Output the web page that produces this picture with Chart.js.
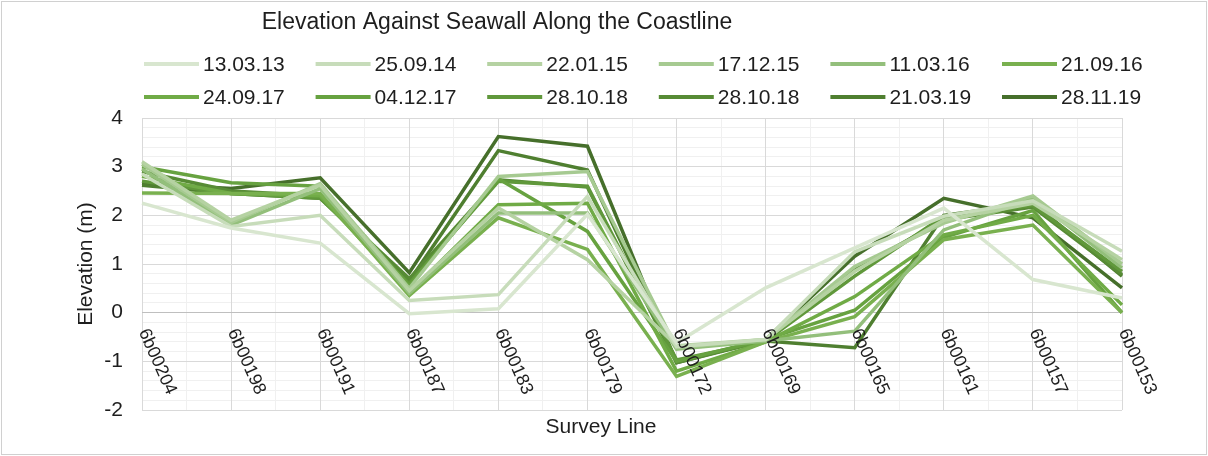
<!DOCTYPE html>
<html>
<head>
<meta charset="utf-8">
<script src="https://cdn.jsdelivr.net/npm/chart.js@4.4.1/dist/chart.umd.min.js"></script>
<style>
  body { margin: 0; background: #fff; }
</style>
</head>
<body>
<canvas id="grafico" width="1208" height="456"></canvas>
<script>
  const linhas = ['6b00204', '6b00198', '6b00191', '6b00187', '6b00183', '6b00179',
                  '6b00172', '6b00169', '6b00165', '6b00161', '6b00157', '6b00153'];
  const datas = ['13.03.13', '25.09.14', '22.01.15', '17.12.15', '11.03.16', '21.09.16',
                 '24.09.17', '04.12.17', '28.10.18', '28.10.18', '21.03.19', '28.11.19'];
  const yTicks = [-2, -1, 0, 1, 2, 3, 4];

  const elev130313 = [2.25, 1.74, 1.43, -0.02, 0.08, 2.02, -0.62, 0.51, 1.33, 2.15, 0.68, 0.30];
  const elev250914 = [2.85, 1.77, 2.00, 0.25, 0.37, 2.39, -0.70, -0.55, 1.25, 1.98, 2.30, 1.26];
  const elev220115 = [3.10, 1.90, 2.62, 0.45, 2.15, 1.09, -0.68, -0.55, 0.85, 1.90, 2.25, 1.09];
  const elev171215 = [3.05, 1.85, 2.65, 0.50, 2.80, 2.90, -0.72, -0.55, 0.95, 1.84, 2.40, 1.00];
  const elev110316 = [2.95, 1.80, 2.55, 0.40, 2.05, 2.05, -0.75, -0.58, -0.38, 1.70, 2.35, 0.92];
  const elev210916 = [2.46, 2.45, 2.45, 0.35, 1.95, 1.30, -1.31, -0.60, -0.08, 1.50, 1.80, 0.00];
  const elev240917 = [2.80, 2.45, 2.40, 0.42, 2.22, 2.25, -1.20, -0.60, 0.33, 1.60, 2.00, 0.16];
  const elev041217 = [3.00, 2.67, 2.60, 0.55, 2.75, 1.67, -1.00, -0.55, 0.05, 1.55, 2.10, 0.00];
  const elev281018a = [2.70, 2.45, 2.35, 0.60, 2.70, 2.60, -0.97, -0.58, 0.75, 1.98, 2.20, 0.85];
  const elev281018b = [2.90, 2.50, 2.40, 0.70, 2.73, 2.58, -1.03, -0.57, 0.88, 1.91, 2.17, 0.78];
  const elev210319 = [2.62, 2.45, 2.35, 0.65, 3.33, 2.93, -1.00, -0.58, -0.72, 2.00, 2.25, 0.75];
  const elev281119 = [2.66, 2.55, 2.77, 0.82, 3.62, 3.42, -1.03, -0.55, 1.16, 2.35, 1.95, 0.51];

  const series = [elev130313, elev250914, elev220115, elev171215, elev110316, elev210916,
                  elev240917, elev041217, elev281018a, elev281018b, elev210319, elev281119];
  const cores = ['#d8e6cf', '#c7dcba', '#b5d2a2', '#a6ca91', '#93bf7b', '#79b04f',
                 '#70ab46', '#67a240', '#60983b', '#578b35', '#4f7f30', '#466f2b'];

  const fonte = "'Liberation Sans', Arial, sans-serif";
  const corTexto = '#1e1e1e';

  // fundo, borda externa, titulos e legenda desenhados a mao
  const moldura = {
    id: 'moldura',
    beforeDraw(chart) {
      const c = chart.ctx;
      c.save();
      c.fillStyle = '#fff';
      c.fillRect(0, 0, chart.width, chart.height);
      c.strokeStyle = '#d0d0d0';
      c.lineWidth = 1;
      c.strokeRect(1.5, 1.5, chart.width - 3, chart.height - 3);
      c.restore();
    },
    afterDraw(chart) {
      const c = chart.ctx;
      c.save();
      c.fillStyle = corTexto;
      c.textAlign = 'center';
      c.textBaseline = 'middle';
      c.font = '23px ' + fonte;
      c.fillText('Elevation Against Seawall Along the Coastline', 497, 23);
      c.font = '21px ' + fonte;
      c.fillText('Survey Line', 601, 427);

      c.textAlign = 'left';
      chart.data.datasets.forEach((ds, i) => {
        const x = 144 + (i % 6) * 171.6;
        const y = i < 6 ? 64 : 97;
        c.strokeStyle = ds.borderColor;
        c.lineWidth = 4;
        c.beginPath();
        c.moveTo(x, y);
        c.lineTo(x + 55, y);
        c.stroke();
        c.fillStyle = corTexto;
        c.fillText(ds.label, x + 59, y + 1);
      });
      c.restore();
    }
  };

  // rotulos do eixo x inclinados, saindo da linha do zero
  const rotulosX = {
    id: 'rotulosX',
    afterDatasetsDraw(chart) {
      const c = chart.ctx;
      const sx = chart.scales.x;
      const y0 = chart.scales.y.getPixelForValue(0);
      c.save();
      c.fillStyle = corTexto;
      c.font = '18px ' + fonte;
      c.textAlign = 'left';
      c.textBaseline = 'middle';
      linhas.forEach((nome, i) => {
        const x = sx.getPixelForValue(i);
        c.save();
        c.translate(x + 1, y0 + 17);
        c.rotate(66 * Math.PI / 180);
        c.fillText(nome, 0, 0);
        c.restore();
      });
      c.restore();
    }
  };

  const ctx = document.getElementById('grafico').getContext('2d');
  const chart = new Chart(ctx, {
    type: 'line',
    data: {
      labels: linhas,
      datasets: series.map((valores, i) => ({
        label: datas[i],
        data: valores,
        borderColor: cores[i],
        backgroundColor: cores[i],
        borderWidth: 3.5,
        pointRadius: 0,
        tension: 0,
        fill: false
      }))
    },
    options: {
      responsive: false,
      animation: false,
      layout: {
        padding: { top: 118, left: 74, right: 86, bottom: 14 }
      },
      scales: {
        x: {
          type: 'category',
          offset: false,
          ticks: { display: false },
          grid: { color: '#d9d9d9', drawTicks: false },
          border: { display: false },
          afterFit(scale) { scale.height = 32; }
        },
        xMinor: {
          type: 'linear',
          position: 'bottom',
          min: 0,
          max: linhas.length - 1,
          ticks: { display: false, stepSize: 0.5 },
          grid: { color: '#f0f0f0', drawTicks: false, z: -2 },
          border: { display: false },
          afterFit(scale) { scale.height = 0; }
        },
        y: {
          min: yTicks[0],
          max: yTicks[yTicks.length - 1],
          afterBuildTicks(scale) { scale.ticks = yTicks.map(v => ({ value: v })); },
          ticks: {
            color: corTexto,
            padding: 19,
            font: { family: fonte, size: 21 }
          },
          grid: {
            color: c => (c.tick && c.tick.value === 0 ? '#bfbfbf' : '#d9d9d9'),
            drawTicks: false
          },
          border: { display: false },
          title: {
            display: true,
            text: 'Elevation (m)',
            color: corTexto,
            font: { family: fonte, size: 21 },
            padding: { top: 0, bottom: 8 }
          },
          afterFit(scale) { scale.width = 68; }
        },
        yMinor: {
          position: 'left',
          min: yTicks[0],
          max: yTicks[yTicks.length - 1],
          ticks: { display: false, stepSize: 0.2 },
          grid: { color: '#f0f0f0', drawTicks: false, z: -2 },
          border: { display: false },
          afterFit(scale) { scale.width = 0; }
        }
      },
      plugins: {
        legend: { display: false },
        title: { display: false },
        tooltip: { enabled: false }
      }
    },
    plugins: [moldura, rotulosX]
  });
</script>
</body>
</html>
